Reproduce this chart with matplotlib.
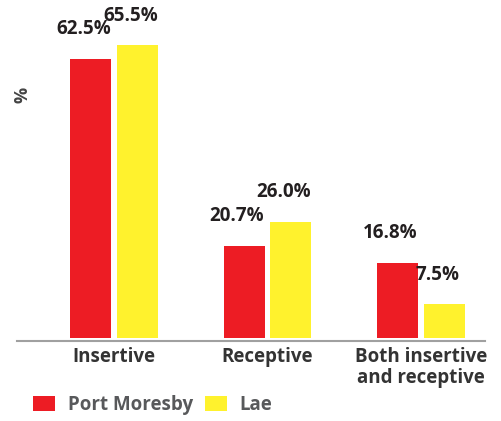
import matplotlib
matplotlib.use("Agg")
import matplotlib.pyplot as plt
import numpy as np

categories = ["Insertive", "Receptive", "Both insertive\nand receptive"]
series_names = ["Port Moresby", "Lae"]
port_moresby = [62.5, 20.7, 16.8]
lae = [65.5, 26.0, 7.5]
colors = ["#ED1C24", "#FFF22D"]

FONT = "Open Sans"
fig = plt.figure(figsize=(5.02, 4.21), dpi=100)
ax = fig.add_axes([17/502, 80/421, 468/502, 331/421])

x = np.arange(len(categories))
w = 0.267
off = 0.153
b1 = ax.bar(x - off, port_moresby, w, color=colors[0], label=series_names[0])
b2 = ax.bar(x + off, lae, w, color=colors[1], label=series_names[1])

for bars, vals in ((b1, port_moresby), (b2, lae)):
    for r, v in zip(bars, vals):
        ax.annotate(f"{v:.1f}%", (r.get_x() + r.get_width()/2, r.get_height()),
                    xytext=(-5, 14), textcoords="offset points",
                    ha="center", va="bottom", fontsize=13.5, fontweight="bold",
                    family=FONT, color="#231F20")

ax.set_xlim(-0.632, 2.417)
ax.set_ylim(-0.67, 73.4)
for s in ["top", "right", "left"]:
    ax.spines[s].set_visible(False)
ax.spines["bottom"].set_color("#A0A0A0")
ax.spines["bottom"].set_linewidth(1.5)
ax.set_yticks([])
ax.set_xticks(x)
ax.set_xticklabels(categories, fontsize=13.5, fontweight="bold", family=FONT,
                   color="#333333", linespacing=1.1)
ax.tick_params(axis="x", length=0, pad=4)

fig.text(0.044, 1 - 95/421, "%", rotation=90, ha="center", va="center",
         fontsize=13, fontweight="bold", family=FONT, color="#444444")

leg = ax.legend(handles=[b1, b2], loc="upper left",
                bbox_to_anchor=(33/502, 1 - 395/421), bbox_transform=fig.transFigure,
                ncol=2, frameon=False, borderpad=0, borderaxespad=0,
                handlelength=1.15, handleheight=0.8, handletextpad=0.7,
                columnspacing=0.65,
                prop={"family": FONT, "weight": "bold", "size": 13.5})
for t in leg.get_texts():
    t.set_color("#58595B")

fig.savefig("out.png", dpi=100)
